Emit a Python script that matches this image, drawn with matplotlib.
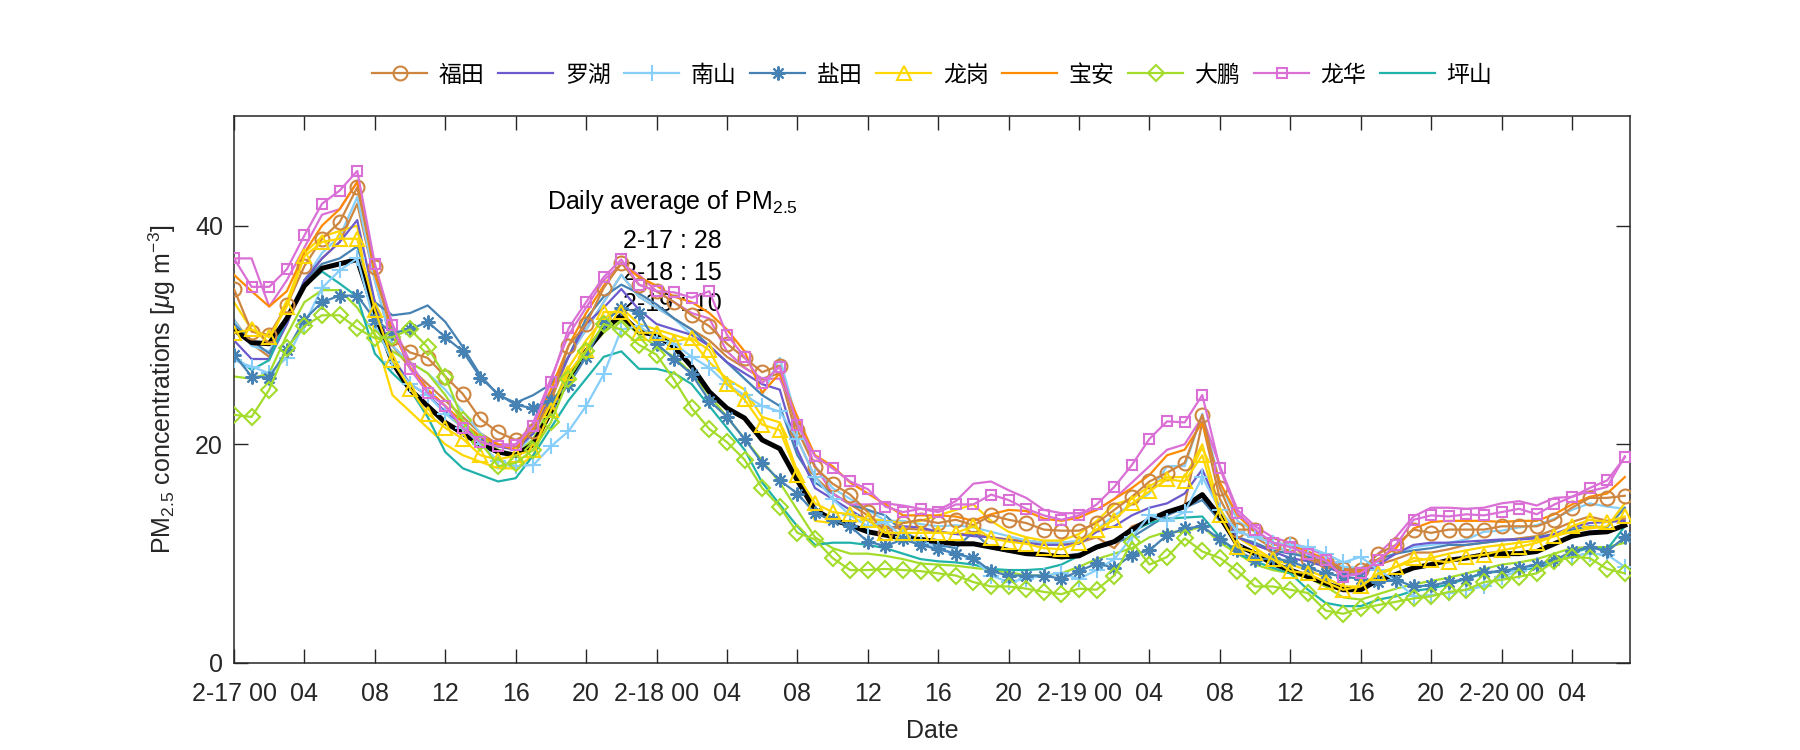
import numpy as np
import matplotlib
matplotlib.use('Agg')
import matplotlib.pyplot as plt

plt.rcParams['font.family'] = ['Liberation Sans', 'Noto Sans CJK SC', 'DejaVu Sans']
plt.rcParams['mathtext.fontset'] = 'custom'
plt.rcParams['mathtext.rm'] = 'Liberation Sans'
plt.rcParams['mathtext.it'] = 'Liberation Sans:italic'

# hourly PM2.5, 2-17 00 .. 2-20 07 (80 hours)
hours = np.arange(80)

futian = [34.2, 30.3, 30.0, 32.7, 36.3, 38.8, 40.3, 43.5, 36.2, 29.7, 28.4, 27.9, 26.2, 24.6, 22.3, 21.1, 20.4,
          21.2, 24.0, 29.0, 31.0, 34.3, 36.6, 34.6, 34.0, 33.0, 31.8, 30.8, 29.2, 27.9, 26.6, 27.2, 21.3,
          17.9, 16.4, 15.4, 13.8, 11.9, 12.8, 13.1, 12.8, 13.1, 12.6, 13.5, 13.1, 12.8, 12.2, 12.1, 12.1,
          12.8, 14.0, 15.2, 16.6, 17.4, 18.3, 22.7, 16.0, 12.2, 12.2, 10.8, 10.9, 9.5, 9.3, 8.6, 8.5,
          10.0, 10.8, 12.2, 11.9, 12.2, 12.2, 12.2, 12.5, 12.5, 12.5, 13.1, 14.2, 15.1, 15.1, 15.3]
luohu = [29.5, 27.8, 27.8, 31.0, 35.0, 37.0, 38.5, 40.5, 33.0, 28.0, 25.5, 24.5, 23.0, 21.5, 20.5, 19.8, 19.5,
         21.0, 24.5, 28.0, 31.0, 32.5, 34.2, 32.3, 31.0, 30.5, 30.0, 29.0, 27.5, 26.5, 25.5, 25.0, 19.5,
         16.0, 15.0, 14.0, 13.0, 12.3, 12.5, 12.4, 12.0, 11.8, 11.6, 11.5, 11.2, 11.0, 10.8, 10.8, 10.9,
         12.0, 12.5, 13.5, 14.2, 14.6, 15.5, 17.7, 14.0, 11.5, 10.8, 10.2, 9.6, 9.3, 8.8, 8.2, 8.0,
         9.0, 10.0, 10.8, 11.0, 11.0, 11.1, 11.2, 11.3, 11.3, 11.4, 11.8, 12.4, 12.8, 12.9, 13.0]
nanshan = [27.7, 27.1, 26.5, 27.9, 31.0, 34.3, 35.9, 37.0, 31.0, 27.5, 25.5, 24.5, 22.8, 21.5, 20.0, 18.5, 18.0,
           18.1, 19.8, 21.2, 23.5, 26.4, 30.5, 30.8, 29.7, 29.2, 28.0, 27.0, 25.5, 24.5, 23.5, 23.0, 20.5,
           17.0, 15.0, 13.5, 12.5, 12.9, 11.5, 11.0, 10.5, 10.0, 9.5, 8.0, 7.4, 7.7, 8.0, 8.2, 7.7,
           8.5, 9.5, 11.5, 13.5, 13.0, 13.8, 17.0, 14.0, 12.0, 11.5, 11.0, 10.8, 10.6, 10.0, 9.2, 9.7,
           8.5, 7.5, 6.1, 6.2, 6.4, 6.7, 7.0, 7.9, 8.4, 9.0, 9.4, 9.8, 10.0, 9.9, 8.8]
yantian = [28.2, 26.2, 26.1, 28.6, 31.4, 33.0, 33.6, 33.6, 31.4, 30.2, 30.5, 31.2, 29.8, 28.5, 26.1, 24.6, 23.6,
           23.3, 24.0, 25.4, 28.0, 31.1, 32.5, 32.0, 29.2, 27.8, 26.4, 24.0, 22.5, 20.5, 18.3, 16.7, 15.5,
           13.7, 13.1, 12.5, 11.1, 10.7, 11.3, 10.8, 10.4, 10.0, 9.6, 8.4, 8.0, 8.0, 8.0, 7.7, 8.4,
           9.1, 8.7, 9.9, 10.3, 11.7, 12.3, 12.5, 11.3, 10.3, 9.4, 9.6, 9.3, 8.7, 8.2, 7.9, 7.7,
           7.4, 7.6, 7.0, 7.1, 7.4, 7.7, 8.3, 8.4, 8.7, 9.0, 9.4, 10.2, 10.6, 10.2, 11.5]
longgang = [30.2, 30.5, 29.8, 32.6, 37.2, 38.5, 38.8, 38.8, 32.3, 27.7, 25.1, 22.8, 21.5, 20.5, 19.0, 18.6, 19.0,
            19.5, 23.1, 26.5, 28.6, 32.1, 32.1, 30.2, 30.2, 29.4, 29.7, 28.6, 25.5, 24.1, 21.8, 21.3, 17.2,
            14.6, 13.8, 13.6, 13.1, 11.9, 11.9, 11.9, 11.9, 11.9, 12.5, 11.4, 11.1, 10.9, 10.5, 10.4, 11.0,
            12.2, 13.1, 14.6, 15.7, 16.8, 16.6, 19.0, 13.5, 10.6, 10.1, 9.5, 8.4, 8.2, 7.4, 6.7, 7.0,
            8.2, 8.8, 9.6, 9.4, 9.2, 9.7, 9.9, 10.3, 10.6, 11.0, 11.6, 12.5, 13.1, 12.9, 13.4]
baoan = [35.5, 34.0, 32.6, 34.0, 37.5, 40.0, 41.5, 44.0, 35.5, 30.5, 27.0, 25.0, 23.5, 22.0, 20.7, 20.0, 19.5,
         21.5, 25.0, 29.0, 32.0, 34.5, 36.5, 35.3, 34.5, 33.5, 33.0, 32.0, 30.5, 28.5, 24.7, 26.5, 22.5,
         19.0, 18.0, 16.5, 15.5, 14.5, 13.5, 13.5, 13.5, 13.4, 13.0, 13.6, 14.0, 13.9, 13.2, 13.0, 13.3,
         14.0, 15.0, 16.0, 17.2, 19.0, 19.5, 22.0, 16.5, 13.5, 12.0, 11.0, 10.8, 10.2, 9.5, 8.5, 8.4,
         9.5, 10.5, 12.3, 12.9, 13.0, 13.0, 13.0, 12.9, 13.0, 13.0, 13.6, 14.5, 15.2, 15.5, 17.0]
dapeng = [22.7, 22.5, 25.0, 28.8, 30.8, 31.8, 31.8, 30.6, 29.7, 29.8, 30.5, 28.9, 26.2, 22.2, 20.2, 18.0, 18.3,
          19.5, 22.0, 26.0, 28.5, 31.0, 30.5, 29.1, 28.2, 25.9, 23.3, 21.4, 20.2, 18.6, 16.0, 14.3, 11.9,
          11.3, 9.6, 8.5, 8.5, 8.6, 8.5, 8.4, 8.2, 8.0, 7.4, 7.0, 7.0, 6.8, 6.5, 6.3, 6.8,
          6.7, 8.0, 11.1, 9.0, 9.7, 11.4, 10.2, 9.6, 8.4, 7.0, 7.0, 6.7, 6.4, 4.8, 4.5, 5.0,
          5.3, 5.6, 5.9, 6.1, 6.5, 6.7, 7.4, 7.6, 7.9, 8.2, 9.3, 9.7, 9.6, 8.6, 8.2]
longhua = [37.0, 34.4, 34.4, 36.0, 39.1, 42.0, 43.2, 45.0, 36.5, 30.9, 26.9, 24.7, 23.5, 21.5, 20.2, 19.8, 19.9,
           21.7, 25.7, 30.6, 33.0, 35.3, 36.9, 34.6, 34.0, 33.9, 33.4, 34.0, 30.0, 28.0, 25.6, 27.1, 21.8,
           18.9, 17.8, 16.6, 15.9, 14.3, 13.8, 14.1, 13.8, 14.5, 14.5, 15.4, 14.9, 14.1, 13.5, 13.1, 13.5,
           14.5, 16.1, 18.1, 20.5, 22.1, 22.0, 24.5, 17.8, 13.7, 12.2, 11.0, 10.6, 10.0, 9.4, 7.9, 8.2,
           9.4, 10.8, 13.1, 13.5, 13.4, 13.6, 13.5, 13.8, 14.1, 13.6, 14.5, 15.2, 16.0, 16.7, 18.8]
pingshan = [28.0, 26.8, 27.7, 31.5, 34.5, 35.8, 34.7, 33.5, 28.3, 26.5, 25.0, 22.5, 19.3, 17.8, 17.2, 16.6, 16.9,
            19.0, 21.5, 24.0, 26.0, 28.0, 28.5, 26.9, 26.9, 26.5, 25.5, 23.5, 21.5, 19.5, 16.5, 14.5, 12.5,
            10.8, 11.0, 11.0, 10.8, 10.5, 10.0, 9.5, 9.3, 9.2, 9.0, 8.6, 8.5, 8.5, 8.6, 9.0, 9.8,
            10.5, 11.2, 12.0, 12.8, 13.2, 13.3, 13.4, 11.5, 10.0, 9.3, 8.7, 8.2, 6.7, 5.5, 5.2, 5.2,
            5.8, 6.1, 6.6, 6.8, 7.2, 7.7, 8.2, 8.4, 8.5, 8.7, 9.2, 10.1, 10.5, 10.4, 12.5]

# second station of some districts (drawn without marker, not in legend)
futian_b = [31.4, 29.2, 28.0, 31.0, 35.0, 37.0, 38.5, 42.0, 35.0, 29.0, 27.0, 25.5, 24.0, 22.5, 21.0, 20.0, 19.8,
            21.0, 24.0, 28.0, 30.5, 33.0, 35.5, 33.5, 32.5, 31.5, 30.5, 29.5, 28.0, 27.0, 26.0, 26.5, 20.5,
            17.0, 15.5, 14.5, 13.5, 12.5, 12.3, 12.2, 12.0, 11.8, 11.8, 11.5, 11.3, 11.2, 11.0, 11.0, 11.0,
            11.5, 10.5, 12.5, 13.0, 13.5, 14.5, 22.0, 15.0, 12.0, 11.5, 10.5, 10.3, 9.5, 9.0, 8.3, 8.3,
            9.0, 9.5, 10.1, 10.1, 10.4, 10.8, 11.0, 11.2, 11.4, 11.6, 12.2, 12.9, 13.4, 13.0, 13.2]
nanshan_b = [31.4, 29.0, 28.5, 31.5, 35.0, 37.5, 39.0, 42.6, 35.0, 29.0, 27.5, 26.5, 25.0, 23.0, 21.0, 19.5, 19.0,
             21.0, 24.5, 28.0, 30.5, 33.0, 35.5, 33.5, 32.5, 31.5, 30.0, 29.0, 27.5, 26.0, 24.5, 27.9, 22.0,
             18.0, 16.0, 15.0, 14.0, 13.0, 13.0, 12.7, 12.5, 12.6, 12.4, 12.0, 11.6, 11.2, 11.0, 11.0, 11.2,
             12.2, 13.5, 14.5, 15.5, 18.0, 18.0, 22.8, 16.5, 13.0, 12.0, 11.0, 10.0, 9.8, 9.5, 8.8, 8.7,
             9.5, 10.0, 10.6, 10.8, 11.0, 11.3, 12.0, 12.1, 12.4, 12.6, 13.2, 14.0, 14.6, 14.3, 14.1]
yantian_b = [31.0, 29.5, 28.3, 31.0, 35.0, 36.5, 37.0, 38.1, 33.0, 31.8, 32.0, 32.7, 31.2, 28.9, 26.3, 24.5, 23.8,
             24.5, 25.5, 28.0, 31.5, 33.5, 34.6, 33.8, 32.8, 31.5, 30.5, 29.0, 27.5, 26.0, 24.5, 23.5, 19.0,
             16.5, 15.5, 14.5, 14.0, 13.5, 12.0, 11.2, 10.8, 10.5, 12.0, 10.5, 10.2, 10.0, 9.8, 9.7, 10.0,
             10.5, 11.0, 11.5, 12.5, 13.5, 14.2, 14.9, 13.0, 11.5, 11.0, 10.3, 10.0, 9.7, 9.2, 8.5, 8.6,
             9.5, 10.0, 10.3, 10.5, 10.8, 10.8, 11.0, 11.2, 11.3, 11.5, 11.8, 12.2, 12.5, 12.4, 14.2]
longgang_b = [33.0, 30.5, 29.3, 33.0, 37.5, 39.0, 39.5, 40.0, 30.0, 24.5, 23.0, 21.5, 20.0, 19.0, 18.4, 17.8, 17.8,
              19.0, 23.0, 27.0, 29.5, 31.5, 32.5, 31.0, 30.5, 30.0, 29.5, 27.5, 26.0, 25.0, 22.5, 22.0, 17.5,
              13.0, 12.8, 12.8, 13.2, 13.0, 12.8, 13.0, 13.5, 14.0, 14.5, 13.0, 12.0, 11.5, 11.2, 11.2, 11.8,
              13.0, 14.5, 15.0, 16.2, 17.0, 17.0, 20.0, 14.0, 11.5, 10.5, 9.5, 9.0, 8.5, 7.8, 7.0, 7.0,
              8.0, 8.8, 9.3, 9.6, 10.0, 10.3, 10.6, 10.8, 11.0, 11.2, 11.6, 12.0, 12.3, 12.5, 14.6]
dapeng_b = [26.2, 26.0, 26.5, 30.0, 33.0, 34.1, 34.1, 32.5, 30.0, 28.5, 27.5, 26.5, 24.5, 22.0, 20.5, 19.5, 19.0,
            20.5, 23.5, 26.5, 28.5, 30.2, 31.5, 30.0, 29.0, 28.0, 26.5, 24.5, 22.5, 20.5, 18.5, 16.5, 14.0,
            11.5, 10.5, 10.0, 10.0, 9.8, 9.5, 9.1, 9.0, 8.9, 8.7, 8.5, 8.3, 8.0, 8.0, 8.2, 8.8,
            9.5, 10.0, 10.5, 11.5, 12.0, 12.0, 12.5, 11.0, 10.0, 9.0, 8.5, 8.2, 7.8, 7.0, 6.0, 5.8,
            6.3, 6.8, 7.2, 7.5, 7.8, 8.2, 8.6, 9.0, 9.2, 9.5, 10.0, 10.5, 10.6, 10.6, 11.0]
longhua_b = [37.0, 37.0, 32.6, 35.0, 38.0, 41.0, 41.5, 44.0, 36.0, 31.0, 27.5, 25.0, 23.5, 21.5, 20.5, 20.0, 20.0,
             22.0, 26.0, 30.0, 32.5, 35.0, 36.5, 35.5, 34.0, 33.0, 32.0, 31.5, 28.5, 27.0, 26.0, 26.0, 22.5,
             18.0, 15.5, 14.5, 14.5, 14.6, 14.4, 14.1, 14.0, 14.8, 16.4, 16.6, 15.8, 15.1, 14.0, 13.7, 13.7,
             14.0, 15.0, 16.5, 18.0, 19.5, 20.0, 22.5, 18.0, 14.0, 12.5, 11.5, 11.0, 10.5, 9.8, 8.5, 8.5,
             10.0, 11.5, 13.4, 14.2, 14.2, 14.1, 14.2, 14.6, 14.8, 14.4, 15.1, 15.2, 15.7, 16.1, 18.9]

# all-station average (black)
mean_all = [30.5, 29.3, 29.2, 31.5, 34.5, 36.1, 36.5, 36.9, 32.0, 27.5, 25.0, 23.5, 22.0, 21.0, 20.0, 19.3, 19.0,
            20.0, 23.0, 26.0, 28.5, 30.5, 31.8, 30.3, 30.0, 28.9, 27.1, 24.8, 23.3, 22.4, 20.4, 19.6, 16.7,
            14.0, 13.1, 12.6, 12.0, 11.7, 11.4, 11.3, 11.1, 10.9, 10.9, 10.6, 10.3, 10.0, 9.9, 9.7, 9.8,
            10.6, 11.1, 12.2, 13.1, 13.8, 14.3, 15.4, 13.4, 10.8, 10.0, 9.1, 8.5, 7.9, 7.3, 6.7, 6.7,
            7.6, 8.1, 8.7, 9.0, 9.4, 9.6, 9.9, 10.0, 10.0, 10.2, 10.9, 11.6, 11.9, 12.0, 12.6]

names = ['福田', '罗湖', '南山', '盐田', '龙岗', '宝安', '大鹏', '龙华', '坪山']
series = [futian, luohu, nanshan, yantian, longgang, baoan, dapeng, longhua, pingshan]
colors = ['#CD853F', '#6A5ACD', '#87CEFA', '#4682B4', '#FFD700', '#FF8C00', '#A3DC2A', '#DA70D6', '#20B2AA']
markers = ['o', None, '+', (8, 2, 0), '^', None, 'D', 's', None]
msizes = [10, 0, 11, 10, 10, 0, 8, 7.5, 0]

extra = [futian_b, nanshan_b, yantian_b, longgang_b, dapeng_b, longhua_b]
extra_colors = ['#CD853F', '#87CEFA', '#4682B4', '#FFD700', '#A3DC2A', '#DA70D6']

tick_pos = np.arange(0, 80, 4)
tick_labels = ['2-17 00', '04', '08', '12', '16', '20',
               '2-18 00', '04', '08', '12', '16', '20',
               '2-19 00', '04', '08', '12', '16', '20',
               '2-20 00', '04']
daily_avg = [('2-17', 28), ('2-18', 15), ('2-19', 10)]

FS = 18


def main():
    fig = plt.figure(figsize=(18, 7.5), dpi=100)
    ax = fig.add_axes([0.130, 0.116, 0.7756, 0.729])

    for y, c in zip(extra, extra_colors):
        ax.plot(hours, y, color=c, lw=1.6, zorder=2)

    handles = []
    for y, c, m, ms in zip(series, colors, markers, msizes):
        if m is None:
            h, = ax.plot(hours, y, color=c, lw=1.6, zorder=3)
        else:
            h, = ax.plot(hours, y, color=c, lw=1.6, marker=m, ms=ms, mfc='none',
                         mec=c, mew=1.5, zorder=4)
        handles.append(h)

    ax.plot(hours, mean_all, color='black', lw=3.6, zorder=3.5)

    ax.text(24.9, 42.2, 'Daily average of PM$_{2.5}$', ha='center', va='center', fontsize=FS, zorder=1)
    for i, (d, v) in enumerate(daily_avg):
        ax.text(24.9, 38.6 - 2.9 * i, f'{d} : {v}', ha='center', va='center', fontsize=FS, zorder=1)

    ax.set_xlim(0, 79.3)
    ax.set_ylim(0, 50)
    ax.set_xticks(tick_pos)
    ax.set_xticklabels(tick_labels)
    ax.set_yticks([0, 20, 40])
    ax.tick_params(direction='in', length=10, width=1, top=True, right=True,
                   labelsize=FS, colors='#262626')
    ax.tick_params(axis='x', pad=14)
    ax.tick_params(axis='y', pad=8)
    for s in ax.spines.values():
        s.set_color('#262626')
        s.set_linewidth(1.1)

    ax.set_xlabel('Date', fontsize=FS, color='#262626', labelpad=9)
    ax.set_ylabel('PM$_{2.5}$ concentrations [$\\mu$g m$^{-3}$]', fontsize=FS,
                  color='#262626', labelpad=12)

    fig.legend(handles, names, loc='center', bbox_to_anchor=(0.518, 0.9), ncol=9,
               frameon=False, fontsize=16.5, handlelength=2.4, handletextpad=0.5,
               columnspacing=0.6, numpoints=1)

    fig.savefig('out.png', dpi=100)


if __name__ == '__main__':
    main()
